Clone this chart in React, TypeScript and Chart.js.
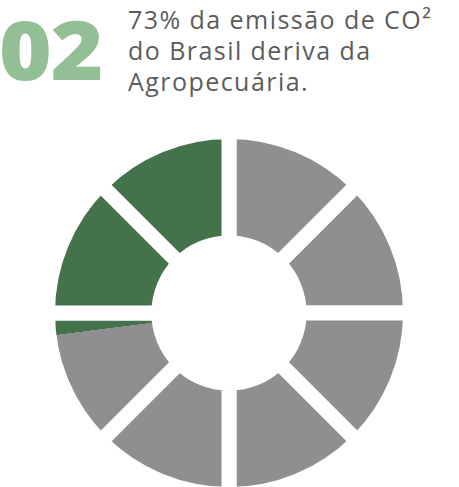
import React, { useEffect, useRef } from "react";
import { Chart, registerables } from "chart.js";

Chart.register(...registerables);

// Eight equal ring sections
const sections = ["1", "2", "3", "4", "5", "6", "7", "8"];
const sectionValues = [1, 1, 1, 1, 1, 1, 1, 1];
// Shares of the ring, clockwise from the top
const shareLabels = ["Outros", "Agropecuária"];
const shareValues = [73, 27];
const shareColors = ["#8e8f91", "#44724a"];

const titleNumber = "02";
const titleLines = ["73% da emissão de CO²", "do Brasil deriva da", "Agropecuária."];

export default function App() {
  const ref = useRef<HTMLCanvasElement | null>(null);

  useEffect(() => {
    const canvas = ref.current;
    if (!canvas) return;
    const total = shareValues.reduce((a, b) => a + b, 0);
    const fill = (c: any) => {
      const chart = c.chart;
      const area = chart.chartArea;
      if (!area) return shareColors[0];
      const cx = (area.left + area.right) / 2;
      const cy = (area.top + area.bottom) / 2;
      const g = chart.ctx.createConicGradient(-Math.PI / 2, cx, cy);
      let acc = 0;
      shareValues.forEach((v, i) => {
        g.addColorStop(acc / total, shareColors[i]);
        acc += v;
        g.addColorStop(Math.min(acc / total, 1), shareColors[i]);
      });
      return g;
    };
    const chart = new Chart(canvas, {
      type: "doughnut",
      data: {
        labels: sections,
        datasets: [
          {
            label: shareLabels.join(" / "),
            data: sectionValues,
            backgroundColor: fill,
            hoverBackgroundColor: fill,
            borderColor: "#ffffff",
            hoverBorderColor: "#ffffff",
            borderWidth: 15,
          },
        ],
      },
      options: {
        animation: false,
        responsive: false,
        maintainAspectRatio: false,
        radius: 181.5,
        cutout: 70.5,
        layout: { padding: 0 },
        plugins: { legend: { display: false }, tooltip: { enabled: false } },
        events: [],
      },
    });
    return () => chart.destroy();
  }, []);

  return (
    <div style={{ position: "absolute", left: 0, top: 0, width: 459, height: 487, background: "#fff", overflow: "hidden" }}>
      <div
        style={{
          position: "absolute",
          left: -1,
          top: 7,
          fontFamily: "'Open Sans', sans-serif",
          fontWeight: 800,
          fontSize: 82,
          lineHeight: "82px",
          color: "#93bf94",
          letterSpacing: -1,
          transform: "scaleX(1.1)",
          transformOrigin: "left top",
        }}
      >
        {titleNumber}
      </div>
      <div
        style={{
          position: "absolute",
          left: 128,
          top: 4,
          fontFamily: "'Open Sans', sans-serif",
          fontWeight: 400,
          fontSize: 25,
          lineHeight: "31px",
          color: "#5c5c5c",
          whiteSpace: "nowrap",
          letterSpacing: 1.45,
        }}
      >
        {titleLines.map((l, i) => (
          <div key={i}>{l}</div>
        ))}
      </div>
      <canvas
        ref={ref}
        width={380}
        height={380}
        style={{ position: "absolute", left: 39, top: 123, width: 380, height: 380 }}
      />
    </div>
  );
}
